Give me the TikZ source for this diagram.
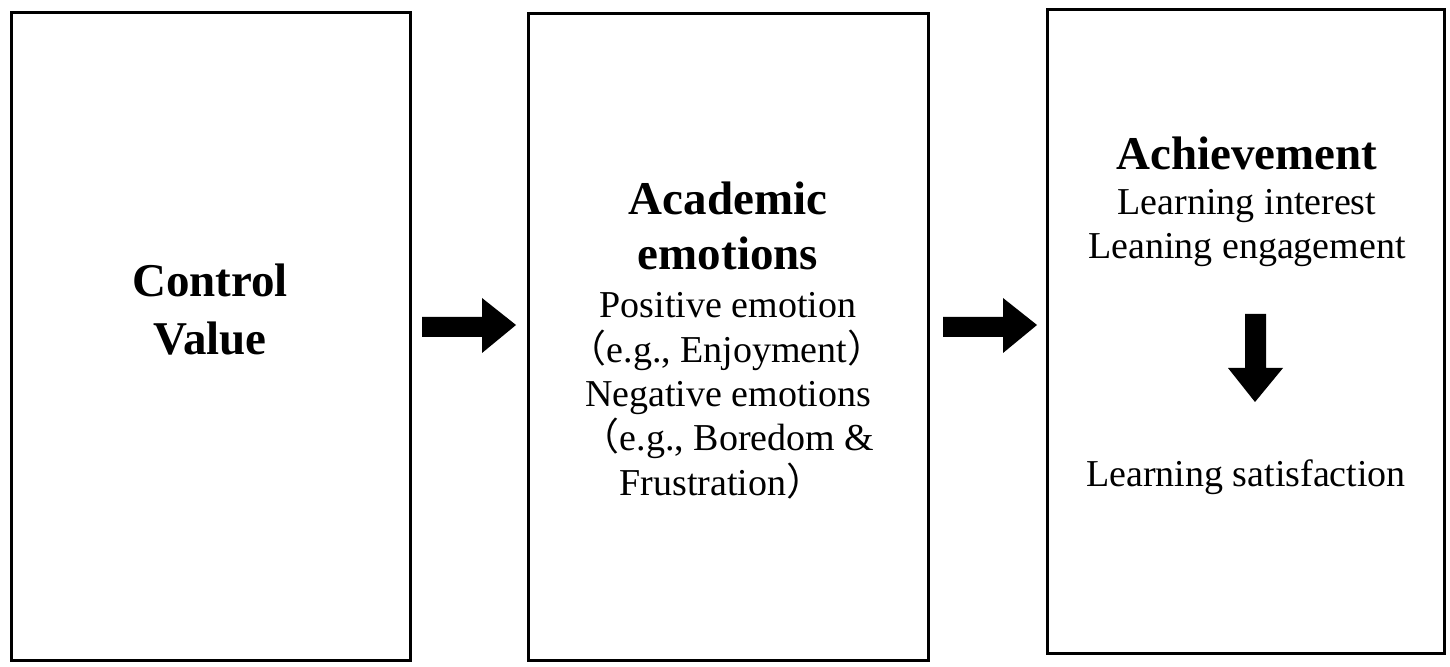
\documentclass[tikz,border=0pt]{standalone}
\usepackage{fontspec}
\setmainfont{Liberation Serif}
\newfontfamily\cjk{Noto Sans CJK SC}
\begin{document}
\begin{tikzpicture}[x=0.5pt,y=-0.5pt,
  panel/.style={draw=black,line width=1.5pt},
  ttl/.style={anchor=base,inner sep=0pt,font=\bfseries\fontsize{23.5pt}{27pt}\selectfont},
  txt/.style={anchor=base,inner sep=0pt,font=\fontsize{19pt}{22pt}\selectfont},
  blockarrow/.style={fill=black,draw=none}]
\useasboundingbox (0,0) rectangle (1450,667);
\fill[white] (0,0) rectangle (1450,667);
% panels
\draw[panel] (11,13) rectangle (410,660);
\draw[panel] (528,14) rectangle (928,660);
\draw[panel] (1047,10) rectangle (1444,653);
% box 1 text
\node[ttl] (control) at (210,297) {Control};
\node[ttl] (value) at (210,355) {Value};
% box 2 text
\node[ttl] (acad) at (728,215) {Academic};
\node[ttl] (emot) at (728,270) {emotions};
\node[txt] (pos) at (728,318) {Positive emotion};
\node[txt] (enj) at (727,363) {{\cjk （}e.g., Enjoyment{\cjk ）}};
\node[txt] (neg) at (728,407) {Negative emotions};
\node[txt] (bor) at (728,451) {{\cjk （}e.g., Boredom \&};
\node[txt] (fru) at (722,495) {Frustration{\cjk ）}};
% box 3 text
\node[ttl] (ach) at (1247,170) {Achievement};
\node[txt] (intr) at (1247,215) {Learning interest};
\node[txt] (eng) at (1247,259) {Leaning engagement};
\node[txt] (sat) at (1246,487) {Learning satisfaction};
% block arrows
\fill[blockarrow] (422,317) -- (482,317) -- (482,298) -- (516,325) -- (482,353) -- (482,337) -- (422,337) -- cycle;
\fill[blockarrow] (943,317) -- (1003,317) -- (1003,298) -- (1037,325) -- (1003,353) -- (1003,337) -- (943,337) -- cycle;
\fill[blockarrow] (1245,314) -- (1266,314) -- (1266,368) -- (1283,368) -- (1255,402) -- (1228,368) -- (1245,368) -- cycle;
\end{tikzpicture}
\end{document}
